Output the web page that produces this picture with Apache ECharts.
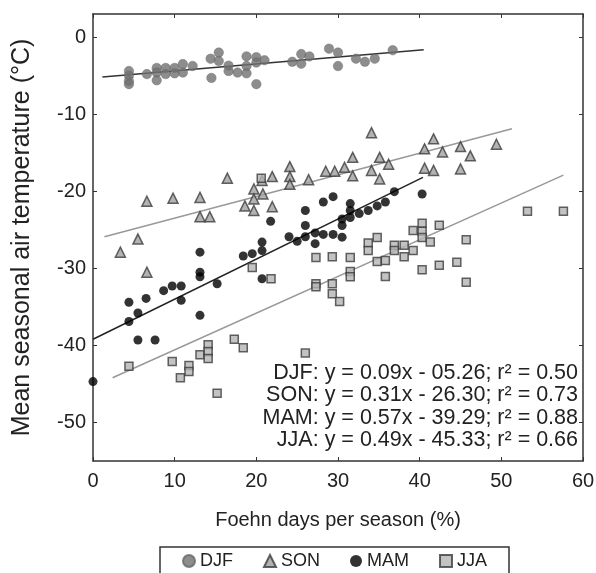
<!DOCTYPE html>
<html>
<head>
<meta charset="utf-8">
<script src="https://cdn.jsdelivr.net/npm/echarts@6/dist/echarts.min.js"></script>
<style>
  html, body { margin: 0; padding: 0; background: #fff; }
  #chart { width: 596px; height: 573px; }
</style>
</head>
<body>
<div id="chart"></div>
<script>
// Foehn days (%) vs mean seasonal air temperature
var djf = [[4.4, -4.4], [4.4, -5.0], [4.4, -5.7], [4.4, -6.1], [6.6, -4.8], [7.8, -4.0], [7.8, -4.6], [7.8, -5.6],
  [8.9, -4.0], [8.9, -4.8], [10.0, -4.0], [10.0, -4.7], [11.0, -3.5], [11.0, -4.6], [12.2, -3.75], [14.4, -2.8],
  [14.5, -5.3], [15.4, -2.0], [15.4, -3.1], [16.6, -3.7], [16.6, -4.4], [17.7, -4.6], [18.8, -2.5], [18.8, -3.75],
  [18.8, -4.7], [20.0, -2.6], [20.0, -3.3], [20.0, -6.1], [21.0, -3.0], [24.4, -3.2], [25.5, -2.2], [25.5, -3.45],
  [26.5, -2.5], [28.9, -1.5], [30.0, -2.0], [30.0, -3.75], [32.2, -2.8], [33.3, -3.2], [34.5, -2.8], [36.7, -1.7]]
var son = [[3.35, -27.9], [5.5, -26.2], [6.6, -21.3], [6.6, -30.5], [9.8, -20.9], [13.1, -20.8], [13.1, -23.3],
  [14.3, -23.3], [16.45, -18.3], [18.6, -21.9], [19.7, -19.7], [19.7, -21.0], [19.7, -22.5], [20.8, -20.35],
  [20.7, -18.6], [21.95, -18.1], [21.95, -22.0], [24.1, -16.8], [24.1, -18.1], [24.1, -19.1], [26.4, -18.5],
  [28.5, -17.4], [29.6, -17.4], [30.8, -16.9], [31.8, -15.6], [31.8, -18.0], [34.1, -12.4], [34.1, -17.3],
  [35.1, -15.6], [35.1, -18.4], [36.2, -16.5], [40.6, -14.5], [40.6, -17.0], [41.7, -13.2], [41.7, -17.3],
  [42.8, -14.9], [45.0, -14.2], [45.0, -17.1], [46.2, -15.4], [49.4, -13.9]]
var mam = [[0, -44.7], [4.4, -34.4], [4.4, -36.9], [5.5, -35.8], [5.5, -39.3], [6.5, -33.9], [7.6, -39.3],
  [8.65, -32.9], [9.7, -32.3], [10.8, -32.3], [10.8, -34.15], [13.1, -27.9], [13.1, -30.5], [13.1, -31.1],
  [13.1, -36.1], [15.2, -32.0], [18.4, -28.4], [19.5, -28.1], [20.7, -26.6], [20.7, -27.7], [20.7, -31.35],
  [21.75, -23.9], [24.0, -25.9], [25.0, -26.5], [26.0, -22.5], [26.0, -24.45], [26.0, -25.9], [27.2, -25.4],
  [27.2, -26.8], [28.2, -21.4], [28.2, -25.6], [29.4, -20.7], [29.4, -25.6], [30.5, -23.6], [30.5, -24.45],
  [30.5, -25.96], [31.5, -21.6], [31.5, -22.5], [31.5, -23.4], [32.6, -22.9], [33.7, -22.5], [34.8, -21.9],
  [35.8, -21.4], [36.9, -20.05], [40.3, -20.35]]
var jja = [[4.4, -42.7], [9.7, -42.1], [10.7, -44.2], [11.75, -42.6], [11.75, -43.4], [13.1, -41.2], [14.1, -39.9],
  [14.1, -40.8], [14.1, -41.7], [15.2, -46.2], [17.3, -39.2], [18.4, -40.3], [19.5, -29.9], [20.6, -18.3],
  [21.8, -31.35], [26.0, -41.0], [27.3, -28.6], [27.3, -32.0], [27.3, -32.4], [29.3, -28.5], [29.3, -32.0],
  [29.3, -33.3], [30.2, -34.3], [31.5, -28.6], [31.5, -30.4], [31.5, -31.1], [33.7, -26.7], [33.7, -27.7],
  [34.8, -26.0], [34.8, -29.1], [35.8, -29.0], [35.8, -31.05], [36.9, -27.0], [36.9, -27.7], [38.1, -27.0],
  [38.1, -28.5], [39.2, -25.1], [39.2, -27.7], [40.3, -24.15], [40.3, -25.2], [40.3, -26.0], [40.3, -30.2],
  [41.3, -26.6], [42.4, -24.4], [42.4, -29.6], [44.55, -29.2], [45.7, -26.3], [45.7, -31.8], [53.2, -22.6],
  [57.6, -22.6]]

// fitted lines, end points as drawn
var djfFit = [[1.15, -5.17], [40.5, -1.65]]
var sonFit = [[1.4, -25.9], [51.3, -11.9]]
var mamFit = [[0, -39.2], [40.4, -18.2]]
var jjaFit = [[2.4, -44.2], [57.6, -17.9]]

var seasons = ['DJF', 'SON', 'MAM', 'JJA']
var equations = [
  'DJF: y = 0.09x - 05.26; r\u00b2 = 0.50',
  'SON: y = 0.31x - 26.30; r\u00b2 = 0.73',
  'MAM: y = 0.57x - 39.29; r\u00b2 = 0.88',
  'JJA: y = 0.49x - 45.33; r\u00b2 = 0.66'
]
var xTicks = [0, 10, 20, 30, 40, 50, 60]
var yTicks = [0, -10, -20, -30, -40, -50]

var font = '"Liberation Sans", Arial, Helvetica, sans-serif'
var axisLine = { show: true, onZero: false, lineStyle: { color: '#333', width: 1.5 } }
var tickIn = { show: true, inside: true, length: 4, lineStyle: { color: '#333' } }

var chart = echarts.init(document.getElementById('chart'))

function fitLine (name, data, color, width) {
  return {
    name: name,
    type: 'line',
    data: data,
    symbol: 'none',
    silent: true,
    z: 1,
    lineStyle: { color: color, width: width }
  }
}

var option = {
  animation: false,
  backgroundColor: '#fff',
  textStyle: { fontFamily: font },
  grid: { left: 93, right: 13, top: 14, bottom: 112, outerBoundsMode: 'none' },
  legend: {
    data: seasons,
    top: 547,
    left: 160,
    itemWidth: 12,
    itemHeight: 12,
    itemGap: 30,
    padding: [5, 22, 5, 22],
    borderColor: '#333',
    borderWidth: 1.5,
    textStyle: { fontSize: 18, color: '#222', fontFamily: font }
  },
  xAxis: [{
    type: 'value',
    min: 0,
    max: 60,
    interval: 10,
    name: 'Foehn days per season (%)',
    nameLocation: 'middle',
    nameGap: 49,
    nameTextStyle: { fontSize: 20, color: '#222' },
    axisLine: axisLine,
    axisTick: tickIn,
    splitLine: { show: false },
    axisLabel: { fontSize: 20, color: '#222', margin: 10, customValues: xTicks }
  }, {
    type: 'value',
    position: 'top',
    min: 0,
    max: 60,
    interval: 10,
    axisLine: axisLine,
    axisTick: tickIn,
    splitLine: { show: false },
    axisLabel: { show: false }
  }],
  yAxis: [{
    type: 'value',
    min: -55,
    max: 3,
    name: 'Mean seasonal air temperature (\u00b0C)',
    nameLocation: 'middle',
    nameGap: 58,
    nameTextStyle: { fontSize: 25, color: '#222' },
    axisLine: axisLine,
    axisTick: Object.assign({ customValues: yTicks }, tickIn),
    splitLine: { show: false },
    axisLabel: { fontSize: 20, color: '#222', margin: 7, customValues: yTicks }
  }, {
    type: 'value',
    position: 'right',
    min: -55,
    max: 3,
    axisLine: axisLine,
    axisTick: Object.assign({ customValues: yTicks }, tickIn),
    splitLine: { show: false },
    axisLabel: { show: false }
  }],
  series: [
    fitLine('DJF fit', djfFit, '#333', 1.5),
    fitLine('SON fit', sonFit, '#999', 1.5),
    fitLine('MAM fit', mamFit, '#222', 1.5),
    fitLine('JJA fit', jjaFit, '#999', 1.5),
    {
      name: 'DJF', type: 'scatter', data: djf, symbol: 'circle', symbolSize: 9.5, z: 3,
      itemStyle: { color: '#707070', borderColor: '#666', borderWidth: 0.5 }
    },
    {
      name: 'SON', type: 'scatter', data: son, symbol: 'triangle', symbolSize: 10, z: 3,
      itemStyle: { color: '#a0a0a0', borderColor: '#3c3c3c', borderWidth: 1.5 }
    },
    {
      name: 'MAM', type: 'scatter', data: mam, symbol: 'circle', symbolSize: 9, z: 3,
      itemStyle: { color: '#000' }
    },
    {
      name: 'JJA', type: 'scatter', data: jja, symbol: 'rect', symbolSize: 8, z: 3,
      itemStyle: { color: '#b4b4b4', borderColor: '#3c3c3c', borderWidth: 1.5 }
    }
  ],
  graphic: equations.map(function (t, i) {
    return {
      type: 'text',
      right: 18,
      top: 362 + i * 22.5,
      z: 10,
      style: { text: t, font: '21.5px ' + font, fill: '#222', textAlign: 'right' }
    }
  })
}

chart.setOption(option)
</script>
</body>
</html>
